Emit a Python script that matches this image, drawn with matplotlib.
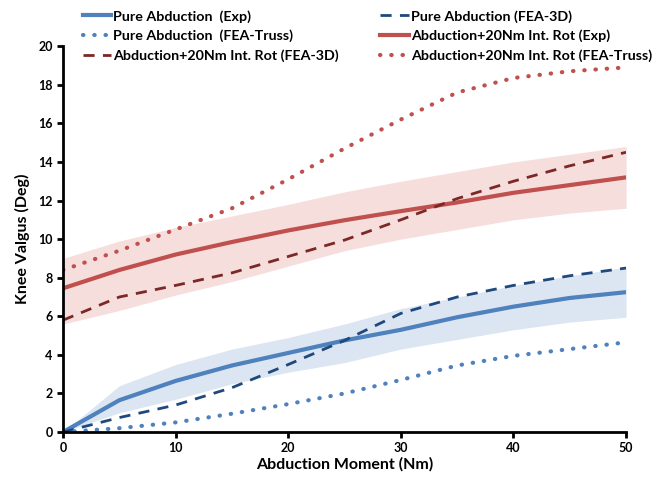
import numpy as np
import matplotlib.pyplot as plt

plt.rcParams['font.family'] = ['Lato', 'DejaVu Sans']

moment = [0, 5, 10, 15, 20, 25, 30, 35, 40, 45, 50]

pure_exp = [0, 1.65, 2.65, 3.45, 4.1, 4.75, 5.3, 5.95, 6.5, 6.95, 7.25]
pure_exp_lo = [0, 1.0, 1.7, 2.5, 3.1, 3.6, 4.3, 4.8, 5.3, 5.7, 5.95]
pure_exp_hi = [0, 2.4, 3.5, 4.3, 4.9, 5.6, 6.4, 7.0, 7.6, 8.1, 8.55]
pure_3d = [0, 0.75, 1.4, 2.3, 3.5, 4.75, 6.15, 7.0, 7.6, 8.1, 8.5]
pure_truss = [0, 0.2, 0.5, 0.95, 1.45, 2.0, 2.7, 3.45, 3.95, 4.3, 4.65]

rot_exp = [7.45, 8.4, 9.2, 9.85, 10.45, 10.98, 11.45, 11.9, 12.4, 12.8, 13.2]
rot_exp_lo = [5.6, 6.3, 7.1, 7.8, 8.6, 9.4, 10.0, 10.5, 11.0, 11.35, 11.6]
rot_exp_hi = [9.0, 9.9, 10.6, 11.2, 11.8, 12.45, 13.0, 13.5, 14.0, 14.4, 14.8]
rot_3d = [5.8, 7.0, 7.6, 8.25, 9.1, 9.95, 11.0, 12.1, 13.0, 13.8, 14.5]
rot_truss = [8.4, 9.4, 10.5, 11.6, 13.1, 14.7, 16.2, 17.6, 18.35, 18.7, 18.9]

blue = '#4F81BD'
navy = '#1F497D'
red = '#C0504D'
darkred = '#7B2826'

fig = plt.figure(figsize=(6.64, 4.86), dpi=100)
ax = fig.add_axes([0.0949, 0.111, 0.848, 0.794])

ax.fill_between(moment, pure_exp_lo, pure_exp_hi, color='#DCE6F2', lw=0)
ax.fill_between(moment, rot_exp_lo, rot_exp_hi, color='#F6DEDD', lw=0)

dots = (0, (0.1, 2.6))
dash = (0, (4, 3))

h1, = ax.plot(moment, pure_exp, color=blue, lw=3)
h2, = ax.plot(moment, pure_3d, color=navy, lw=2, linestyle=dash)
h3, = ax.plot(moment, pure_truss, color=blue, lw=3, linestyle=dots, dash_capstyle='round')
h4, = ax.plot(moment, rot_exp, color=red, lw=3)
h5, = ax.plot(moment, rot_3d, color=darkred, lw=2, linestyle=dash)
h6, = ax.plot(moment, rot_truss, color=red, lw=3, linestyle=dots, dash_capstyle='round')

ax.set_xlim(0, 50)
ax.set_ylim(0, 20)
ax.set_xticks(range(0, 51, 10))
ax.set_yticks(range(0, 21, 2))
for s in ['top', 'right']:
    ax.spines[s].set_visible(False)
for s in ['left', 'bottom']:
    ax.spines[s].set_linewidth(2)
ax.tick_params(width=2, length=4, labelsize=9)
for lab in ax.get_xticklabels() + ax.get_yticklabels():
    lab.set_fontweight('bold')

ax.set_xlabel('Abduction Moment (Nm)', fontsize=11.5, fontweight='bold', labelpad=2)
ax.set_ylabel('Knee Valgus (Deg)', fontsize=11.5, fontweight='bold', labelpad=6)

handles = [h1, h3, h5, h2, h4, h6]
labels = ['Pure Abduction  (Exp)', 'Pure Abduction  (FEA-Truss)',
          'Abduction+20Nm Int. Rot (FEA-3D)', 'Pure Abduction (FEA-3D)',
          'Abduction+20Nm Int. Rot (Exp)', 'Abduction+20Nm Int. Rot (FEA-Truss)']
leg = fig.legend(handles, labels, ncol=2, loc='upper left', bbox_to_anchor=(0.105, 1.006),
                 frameon=False, handlelength=2.0, handletextpad=0.15, labelspacing=0.5,
                 columnspacing=2.9, prop={'size': 10.3, 'weight': 'bold'})

fig.savefig('out.png', dpi=100)
